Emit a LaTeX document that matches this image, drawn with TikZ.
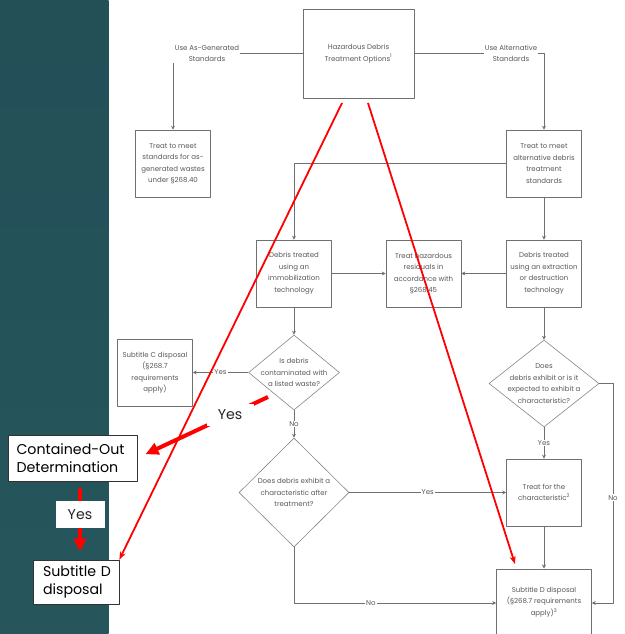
\documentclass[tikz,border=0pt]{standalone}
\usepackage{fontspec}
\setmainfont{Poppins}
\usetikzlibrary{arrows.meta,shapes.geometric}
\definecolor{paneltop}{RGB}{35,79,87}
\definecolor{panelmid}{RGB}{48,103,104}
\definecolor{panelbot}{RGB}{38,86,92}
\definecolor{flowgray}{RGB}{112,112,112}
\definecolor{diamgray}{RGB}{135,135,135}
\definecolor{textgray}{RGB}{88,88,88}
\newcommand{\flowfont}{\fontsize{7}{11.5}\selectfont}
\newcommand{\notefont}{\fontsize{14.2}{17.5}\selectfont}
\tikzset{
	flowbox/.style={draw=flowgray, line width=0.6pt, align=center, minimum width=75pt, minimum height=67pt, inner sep=1pt, text=textgray, font=\flowfont},
	flowdiam/.style={draw=diamgray, line width=0.6pt, diamond, inner sep=0pt},
	flowlbl/.style={align=center, inner sep=1pt, text=textgray, font=\flowfont},
	flowline/.style={draw=flowgray, line width=0.6pt},
	yesno/.style={fill=white, inner sep=1pt, text=textgray, font=\flowfont},
	notebox/.style={draw=black!80, line width=0.7pt, fill=white, align=left, inner xsep=0pt, inner ysep=0pt, font=\notefont},
	redyes/.style={fill=white, inner sep=0pt, text=black!85, font=\notefont},
	redthin/.style={draw=red, line width=1.8pt, -{Stealth[length=8pt,width=6pt]}},
	redthick/.style={draw=red, line width=4pt, -{Triangle[length=13pt,width=12pt]}}
}
\begin{document}
\begin{tikzpicture}[x=1pt, y=-1pt, line join=round, >={Stealth[length=4pt,width=4pt]}]
	\useasboundingbox (0,0) rectangle (624,634);
	\fill[white] (0,0) rectangle (624,634);
	\shade[top color=paneltop, middle color=panelmid, bottom color=panelbot] (0,0) rectangle (108.5,634);
	% flowchart
	\node[flowbox, minimum width=111pt, minimum height=89pt] (opts) at (358.5,53.5) {Hazardous Debris\\Treatment Options\textsuperscript{1}};
	\node[flowlbl] (asgenlbl) at (207,53.5) {Use As-Generated\\Standards};
	\node[flowlbl] (altlbl) at (511,53.5) {Use Alternative\\Standards};
	\node[flowbox] (asgen) at (173,163.5) {Treat to meet\\standards for as-\\generated wastes\\under §268.40};
	\node[flowbox] (alt) at (544,163.5) {Treat to meet\\alternative debris\\treatment\\standards};
	\node[flowbox] (immob) at (294,273.5) {Debris treated\\using an\\immobilization\\technology};
	\node[flowbox] (resid) at (423.5,273.5) {Treat hazardous\\residuals in\\accordance with\\§268.45};
	\node[flowbox] (extr) at (544,273.5) {Debris treated\\using an extraction\\or destruction\\technology};
	\node[flowdiam, minimum width=91pt, minimum height=75pt] (listed) at (294,372.5) {};
	\node[flowlbl] (listedtxt) at (listed) {Is debris\\contaminated with\\a listed waste?};
	\node[flowbox] (subC) at (155,372.5) {Subtitle C disposal\\(§268.7\\requirements\\apply)};
	\node[flowdiam, minimum width=110pt, minimum height=87pt] (char) at (544,383.5) {};
	\node[flowlbl] (chartxt) at (char) {Does\\debris exhibit or is it\\expected to exhibit a\\characteristic?};
	\node[flowdiam, minimum width=110pt, minimum height=109pt] (after) at (294,492.5) {};
	\node[flowlbl] (aftertxt) at (after) {Does debris exhibit a\\characteristic after\\treatment?};
	\node[flowbox] (treat) at (544,492.5) {Treat for the\\characteristic\textsuperscript{2}};
	\node[flowbox, anchor=north, minimum width=95pt, minimum height=80pt] (subD) at (544,568.5) {};
	\node[flowlbl] (subDtxt) at (544,602) {Subtitle D disposal\\(§268.7 requirements\\apply)\textsuperscript{3}};
	\coordinate (rbend) at (613,603);
	\draw[flowline] (asgenlbl) -- (opts);
	\draw[flowline,->] (asgenlbl.south -| asgen) -- (asgen);
	\draw[flowline] (opts) -- (altlbl);
	\draw[flowline,->] (altlbl.east) -| (alt);
	\draw[flowline,->] (alt) -| (immob);
	\draw[flowline,->] (alt) -- (extr);
	\draw[flowline,->] (immob) -- (resid);
	\draw[flowline,->] (extr) -- (resid);
	\draw[flowline,->] (immob) -- (listed);
	\draw[flowline,->] (listed) -- node[yesno]{Yes} (subC);
	\draw[flowline,->] (listed) -- node[yesno]{No} (after);
	\draw[flowline,->] (extr) -- (char);
	\draw[flowline,->] (char) -- node[yesno]{Yes} (treat);
	\draw[flowline,->] (after) -- node[yesno]{Yes} (treat);
	\draw[flowline,->] (treat) -- (subD);
	\draw[flowline,->] (after) |- node[yesno, pos=0.69]{No} (subD.west |- rbend);
	\draw[flowline,->] (char) -| node[yesno, pos=0.76]{No} (rbend) -- (subD.east |- rbend);
	% red notes
	\node[notebox, text width=112pt, inner xsep=8.5pt, minimum height=46pt] (contout) at (72.5,458) {Contained-Out\\Determination};
	\node[notebox, text width=78pt, inner xsep=4pt, minimum height=44pt] (subDleft) at (76,582) {\hspace*{6pt}Subtitle D\\\hspace*{6pt}disposal};
	\coordinate (redA) at (342,103);
	\coordinate (redB) at (368,103);
	\coordinate (redBtip) at (515,564);
	\coordinate (redC) at (268,397);
	\draw[redthin] (redA) -- (subDleft.north east);
	\draw[redthin] (redB) -- (redBtip);
	\draw[redthick, shorten >=9pt] (redC) -- node[redyes, pos=0.29, minimum width=47pt, minimum height=22pt]{Yes} (contout.east);
	\draw[redthick] ([xshift=7.5pt,yshift=-7pt]contout.south) -- node[redyes, pos=0.42, minimum width=49pt, minimum height=27pt]{Yes} ([xshift=4pt,yshift=8pt]subDleft.north);
\end{tikzpicture}
\end{document}
